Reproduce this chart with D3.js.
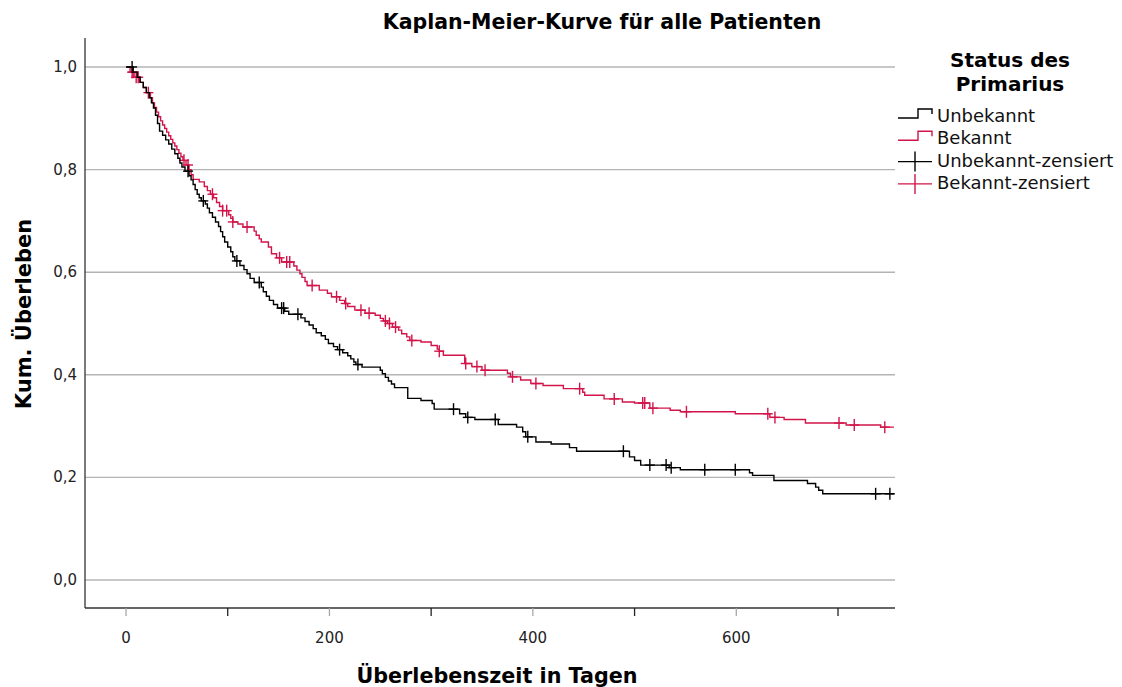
<!DOCTYPE html>
<html>
<head>
<meta charset="utf-8">
<script src="https://cdn.jsdelivr.net/npm/d3@7"></script>
<style>
  body { margin: 0; background: #fff; }
  text { font-family: "DejaVu Sans", sans-serif; }
</style>
</head>
<body>
<script>
// Kaplan-Meier steps: [days, cumulative survival]
var unbekanntSteps = [[0,1.0],[7,0.99],[11,0.98],[14,0.97],[17,0.96],[20,0.95],[23,0.94],[25,0.93],[27,0.92],[29,0.906],[31,0.89],[33,0.875],[36,0.867],[39,0.858],[42,0.85],[45,0.84],[48,0.831],[51,0.822],[53,0.813],[55,0.805],[58,0.797],[62,0.788],[64,0.78],[66,0.771],[68,0.761],[70,0.752],[72,0.745],[74,0.739],[78,0.733],[80,0.725],[82,0.716],[85,0.707],[88,0.698],[91,0.689],[93,0.679],[95,0.669],[97,0.659],[100,0.649],[103,0.64],[105,0.63],[107,0.622],[112,0.613],[116,0.605],[119,0.597],[122,0.588],[126,0.58],[133,0.571],[135,0.562],[138,0.553],[141,0.545],[145,0.537],[149,0.53],[156,0.524],[160,0.518],[172,0.511],[176,0.504],[180,0.497],[184,0.49],[187,0.482],[192,0.476],[196,0.469],[199,0.461],[204,0.455],[208,0.449],[213,0.443],[218,0.437],[221,0.431],[224,0.425],[226,0.42],[232,0.415],[250,0.409],[252,0.402],[255,0.395],[258,0.388],[261,0.382],[264,0.375],[277,0.354],[290,0.35],[301,0.344],[303,0.333],[328,0.324],[334,0.317],[343,0.313],[366,0.303],[384,0.298],[390,0.289],[393,0.279],[403,0.269],[418,0.265],[436,0.258],[443,0.251],[495,0.24],[500,0.233],[506,0.224],[534,0.219],[545,0.215],[613,0.209],[616,0.204],[637,0.194],[670,0.188],[678,0.181],[681,0.175],[685,0.168]];
var bekanntSteps = [[0,1.0],[4,0.99],[8,0.98],[13,0.97],[17,0.96],[20,0.95],[24,0.94],[26,0.93],[28,0.921],[30,0.912],[32,0.903],[34,0.895],[36,0.887],[38,0.88],[40,0.873],[42,0.866],[44,0.859],[46,0.852],[48,0.846],[50,0.839],[52,0.832],[54,0.825],[56,0.818],[59,0.809],[62,0.8],[64,0.79],[66,0.781],[72,0.776],[77,0.767],[80,0.759],[83,0.752],[86,0.745],[89,0.736],[92,0.728],[95,0.72],[101,0.712],[103,0.705],[105,0.698],[110,0.694],[115,0.688],[126,0.68],[128,0.672],[131,0.665],[133,0.659],[140,0.649],[143,0.636],[148,0.628],[153,0.62],[165,0.612],[168,0.604],[171,0.597],[173,0.59],[176,0.582],[178,0.574],[190,0.565],[198,0.559],[202,0.552],[210,0.545],[215,0.539],[218,0.533],[225,0.526],[235,0.52],[245,0.516],[250,0.51],[253,0.505],[257,0.5],[262,0.493],[268,0.487],[271,0.48],[276,0.474],[279,0.467],[290,0.464],[300,0.457],[306,0.45],[308,0.446],[312,0.438],[333,0.422],[340,0.416],[350,0.409],[375,0.403],[378,0.396],[388,0.39],[398,0.383],[410,0.379],[430,0.373],[449,0.366],[451,0.36],[470,0.353],[488,0.347],[500,0.345],[515,0.335],[535,0.331],[545,0.328],[599,0.324],[633,0.317],[647,0.313],[668,0.306],[708,0.302],[742,0.298]];

// censored cases (days)
var unbekanntCensored = [6,61,76,109,131,153,155,169,210,228,322,336,363,395,489,515,531,536,569,599,737,751];
var bekanntCensored = [6,7,10,12,22,57,61,85,95,99,105,119,151,158,161,183,207,216,231,239,255,259,265,281,308,334,345,353,380,403,446,480,508,510,518,551,631,638,701,716,746];

var lastDay = 755;
var xTicks = [0,100,200,300,400,500,600,700];
var xLabels = [0,200,400,600];
var yTicks = [0,0.2,0.4,0.6,0.8,1.0];

var legendLabels = ["Unbekannt","Bekannt","Unbekannt-zensiert","Bekannt-zensiert"];
var RED = "#d2144a";

var svg = d3.select("body").append("svg")
    .attr("width", 1122)
    .attr("height", 687);

svg.append("rect").attr("width", 1122).attr("height", 687).attr("fill", "#fff");

// plot frame
var plotLeft = 85, plotRight = 895, plotTop = 38, plotBottom = 608;

var x = d3.scaleLinear().domain([0, 700]).range([126, 838]);
var y = d3.scaleLinear().domain([0, 1]).range([580, 67]);

// gridlines
svg.append("g").selectAll("line").data(yTicks).enter().append("line")
    .attr("x1", plotLeft).attr("x2", plotRight)
    .attr("y1", function(d) { return y(d); })
    .attr("y2", function(d) { return y(d); })
    .attr("stroke", "#b4b4b4")
    .attr("stroke-width", 1.4);

// y labels
svg.append("g").selectAll("text").data(yTicks).enter().append("text")
    .attr("x", 77)
    .attr("y", function(d) { return y(d) + 5; })
    .attr("text-anchor", "end")
    .attr("font-size", 15)
    .attr("font-family", "'DejaVu Sans Condensed', 'DejaVu Sans', sans-serif")
    .attr("fill", "#222")
    .text(function(d) { return d3.format(".1f")(d).replace(".", ","); });

// axes lines
svg.append("line").attr("x1", plotLeft).attr("x2", plotLeft).attr("y1", plotTop).attr("y2", plotBottom)
    .attr("stroke", "#333").attr("stroke-width", 1.3);
svg.append("line").attr("x1", plotLeft).attr("x2", plotRight).attr("y1", plotBottom).attr("y2", plotBottom)
    .attr("stroke", "#333").attr("stroke-width", 1.3);

// x ticks (labelled ones are grey)
svg.append("g").selectAll("line").data(xTicks).enter().append("line")
    .attr("x1", function(d) { return x(d); })
    .attr("x2", function(d) { return x(d); })
    .attr("y1", plotBottom).attr("y2", plotBottom + 8)
    .attr("stroke", function(d) { return xLabels.indexOf(d) >= 0 ? "#a8a8a8" : "#222"; })
    .attr("stroke-width", 1.3);

svg.append("g").selectAll("text").data(xLabels).enter().append("text")
    .attr("x", function(d) { return x(d); })
    .attr("y", 643)
    .attr("text-anchor", "middle")
    .attr("font-size", 15)
    .attr("font-family", "'DejaVu Sans Condensed', 'DejaVu Sans', sans-serif")
    .attr("fill", "#222")
    .text(function(d) { return d; });

// survival at a given day
function survivalAt(steps, t) {
    var i = d3.bisector(function(d) { return d[0]; }).right(steps, t) - 1;
    return steps[Math.max(i, 0)][1];
}

var stepLine = d3.line()
    .x(function(d) { return x(d[0]); })
    .y(function(d) { return y(d[1]); })
    .curve(d3.curveStepAfter);

function drawCurve(steps, censored, color) {
    var pts = steps.concat([[lastDay, steps[steps.length - 1][1]]]);
    svg.append("path")
        .attr("d", stepLine(pts))
        .attr("fill", "none")
        .attr("stroke", color)
        .attr("stroke-width", 1.4);
    var g = svg.append("g").attr("stroke", color).attr("stroke-width", 1.4);
    censored.forEach(function(t) {
        var cx = x(t), cy = y(survivalAt(steps, t));
        g.append("line").attr("x1", cx - 5).attr("x2", cx + 5).attr("y1", cy).attr("y2", cy);
        g.append("line").attr("x1", cx).attr("x2", cx).attr("y1", cy - 6).attr("y2", cy + 6);
    });
}

drawCurve(bekanntSteps, bekanntCensored, RED);
drawCurve(unbekanntSteps, unbekanntCensored, "#000");

// titles
svg.append("text")
    .attr("x", 602).attr("y", 29)
    .attr("text-anchor", "middle")
    .attr("font-size", 20.5)
    .attr("font-weight", "bold")
    .text("Kaplan-Meier-Kurve für alle Patienten");

svg.append("text")
    .attr("x", 497).attr("y", 683)
    .attr("text-anchor", "middle")
    .attr("font-size", 20.7)
    .attr("font-weight", "bold")
    .text("Überlebenszeit in Tagen");

svg.append("text")
    .attr("transform", "translate(31,314) rotate(-90)")
    .attr("text-anchor", "middle")
    .attr("font-size", 21)
    .attr("font-weight", "bold")
    .text("Kum. Überleben");

// legend
var legend = svg.append("g");
legend.append("text").attr("x", 1010).attr("y", 67).attr("text-anchor", "middle")
    .attr("font-size", 20).attr("font-weight", "bold").text("Status des");
legend.append("text").attr("x", 1010).attr("y", 91).attr("text-anchor", "middle")
    .attr("font-size", 20).attr("font-weight", "bold").text("Primarius");

var legendColors = ["#000", RED, "#000", RED];
legendLabels.forEach(function(label, i) {
    var by = 122 + i * 22.3;
    var c = legendColors[i];
    if (i < 2) {
        legend.append("path")
            .attr("d", "M898," + (by - 4) + "H918V" + (by - 13) + "H932V" + (by - 8))
            .attr("fill", "none").attr("stroke", c).attr("stroke-width", 1.4);
    } else {
        legend.append("line").attr("x1", 898).attr("x2", 932).attr("y1", by - 5).attr("y2", by - 5)
            .attr("stroke", c).attr("stroke-width", 1.4);
        legend.append("line").attr("x1", 915).attr("x2", 915).attr("y1", by - 15).attr("y2", by + 5)
            .attr("stroke", c).attr("stroke-width", 1.4);
    }
    legend.append("text").attr("x", 937).attr("y", by)
        .attr("font-size", 18).attr("fill", "#111").text(label);
});
</script>
</body>
</html>
